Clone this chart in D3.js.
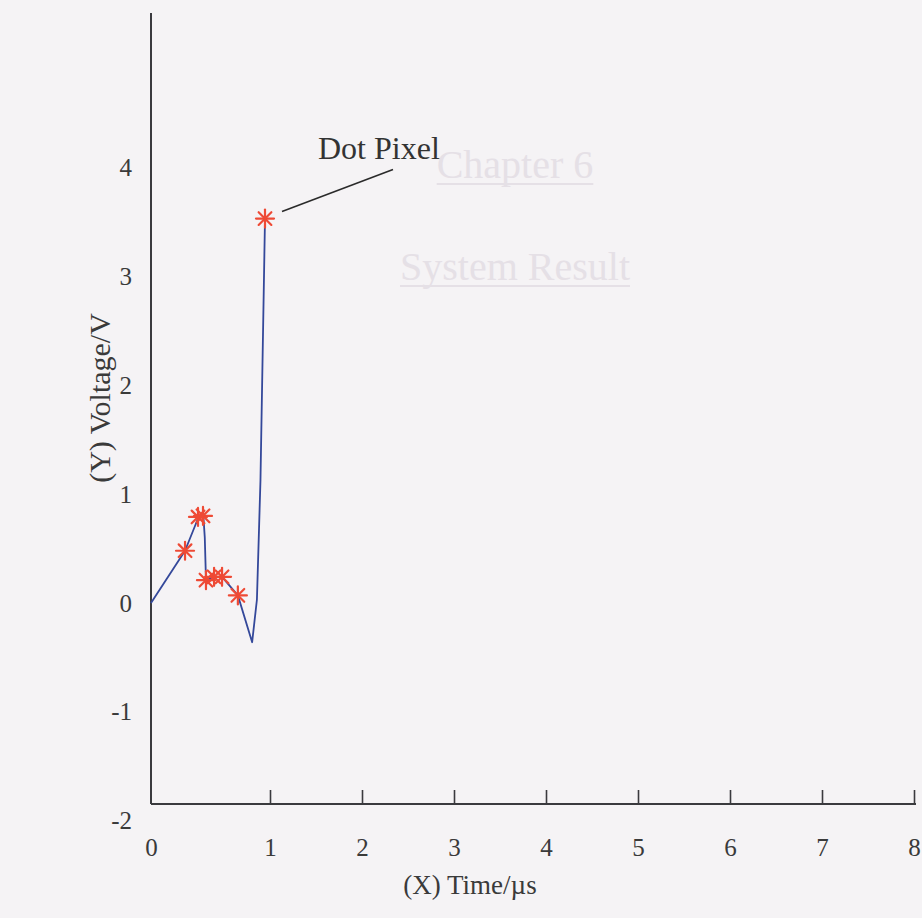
<!DOCTYPE html>
<html>
<head>
<meta charset="utf-8">
<script src="https://cdn.jsdelivr.net/npm/d3@7"></script>
<style>
  html, body { margin: 0; padding: 0; background: #f5f3f5; }
  svg { display: block; }
  text { font-family: "Liberation Serif", "DejaVu Serif", serif; }
</style>
</head>
<body>
<svg id="chart" width="922" height="918"></svg>
<script>
// ---- data ----
const xTicks = [0, 1, 2, 3, 4, 5, 6, 7, 8];
const yTicks = [-2, -1, 0, 1, 2, 3, 4];

// waveform (time in µs, voltage in V)
const lineTime    = [0, 0.286, 0.40, 0.44, 0.452, 0.462, 0.53, 0.597, 0.73, 0.85, 0.89, 0.92, 0.958];
const lineVoltage = [0, 0.48, 0.79, 0.80, 0.60, 0.21, 0.24, 0.24, 0.07, -0.36, 0.03, 1.13, 3.53];

// sampled "dot pixel" markers
const markTime    = [0.286, 0.395, 0.437, 0.462, 0.53, 0.597, 0.73, 0.958];
const markVoltage = [0.48, 0.79, 0.80, 0.21, 0.24, 0.24, 0.07, 3.53];

const xLabel = "(X) Time/\u00b5s";
const yLabel = "(Y) Voltage/V";
const annotation = "Dot Pixel";
const ghostTexts = ["Chapter 6", "System Result"];

// ---- layout ----
const svg = d3.select("#chart");
const axisLeftX = 151, axisBottomY = 804, axisTopY = 13, axisRightX = 916;

const x = d3.scaleLinear().domain([0, 1, 8]).range([151, 270, 914]);
const y = d3.scaleLinear().domain([-2, 4]).range([820.8, 167.4]);

// faint bleed-through text from the back page
const ghostColor = "#e5e0e6";
const ghost = svg.append("g").attr("fill", ghostColor).attr("font-size", 40).attr("text-anchor", "middle");
[[ghostTexts[0], 515, 178], [ghostTexts[1], 515, 280]].forEach(([t, gx, gy]) => {
  const el = ghost.append("text").attr("x", gx).attr("y", gy).text(t);
  const w = el.node().getComputedTextLength();
  ghost.append("line").attr("x1", gx - w / 2).attr("x2", gx + w / 2)
    .attr("y1", gy + 6).attr("y2", gy + 6).attr("stroke", ghostColor).attr("stroke-width", 2);
});

// y axis
svg.append("line")
  .attr("x1", axisLeftX).attr("x2", axisLeftX)
  .attr("y1", axisTopY).attr("y2", axisBottomY)
  .attr("stroke", "#3a3a3e").attr("stroke-width", 2);

const yAxis = svg.append("g")
  .attr("transform", `translate(${axisLeftX},0)`)
  .call(d3.axisLeft(y).tickValues(yTicks).tickSize(0).tickPadding(19).tickFormat(d3.format("d")));
yAxis.select(".domain").remove();
yAxis.selectAll("text").attr("font-size", 25).attr("fill", "#3a3a3a")
  .attr("font-family", "'Liberation Serif', serif").text(d => d < 0 ? "-" + Math.abs(d) : d);

// x axis
const xAxis = svg.append("g")
  .attr("transform", `translate(0,${axisBottomY})`)
  .call(d3.axisBottom(x).tickValues(xTicks).tickSizeInner(-14).tickSizeOuter(0).tickPadding(34).tickFormat(d3.format("d")));
xAxis.select(".domain").remove();
xAxis.selectAll(".tick line").attr("stroke", "#3a3a3e").attr("stroke-width", 1.6)
  .filter(d => d === 0).remove();
xAxis.selectAll("text").attr("font-size", 25).attr("fill", "#3a3a3a")
  .attr("font-family", "'Liberation Serif', serif");
svg.append("line")
  .attr("x1", axisLeftX).attr("x2", axisRightX)
  .attr("y1", axisBottomY).attr("y2", axisBottomY)
  .attr("stroke", "#3a3a3e").attr("stroke-width", 2.2);

// axis titles
svg.append("text").attr("x", 470).attr("y", 894).attr("text-anchor", "middle")
  .attr("font-size", 27).attr("fill", "#3a3a3a").text(xLabel);
svg.append("text").attr("transform", "translate(110,398) rotate(-90)").attr("text-anchor", "middle")
  .attr("font-size", 30).attr("fill", "#3a3a3a").text(yLabel);

// waveform line
const lineData = lineTime.map((t, i) => [t, lineVoltage[i]]);
svg.append("path")
  .datum(lineData)
  .attr("fill", "none")
  .attr("stroke", "#34489a")
  .attr("stroke-width", 1.8)
  .attr("stroke-linejoin", "round")
  .attr("d", d3.line().x(d => x(d[0])).y(d => y(d[1])));

// asterisk markers
const markData = markTime.map((t, i) => [t, markVoltage[i]]);
const r = 9;
const star = svg.append("g").attr("stroke", "#ee4a35").attr("stroke-width", 2.2).attr("stroke-linecap", "round");
markData.forEach(d => {
  const g = star.append("g").attr("transform", `translate(${x(d[0])},${y(d[1])})`);
  [0, 45, 90, 135].forEach(a => {
    const rad = a * Math.PI / 180;
    g.append("line")
      .attr("x1", -r * Math.cos(rad)).attr("y1", -r * Math.sin(rad))
      .attr("x2", r * Math.cos(rad)).attr("y2", r * Math.sin(rad));
  });
});

// annotation
const peak = markData[markData.length - 1];
const px = x(peak[0]), py = y(peak[1]);
svg.append("line")
  .attr("x1", px + 17).attr("y1", py - 7)
  .attr("x2", px + 128).attr("y2", py - 49)
  .attr("stroke", "#2a2a2a").attr("stroke-width", 1.6);
svg.append("text").attr("x", px + 53).attr("y", py - 60)
  .attr("font-size", 32).attr("fill", "#333").text(annotation);
</script>
</body>
</html>
